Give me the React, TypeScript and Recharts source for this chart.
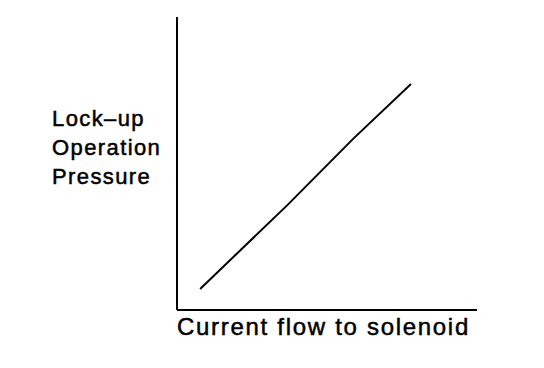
import React from 'react';
import { LineChart, Line, XAxis, YAxis, Label } from 'recharts';

// current flow (relative) vs lock-up operation pressure (relative)
const currentFlow = [7.7, 36.7, 58.7, 78];
const pressure = [7.2, 35.7, 58.4, 77.1];

const yLabelLines = ['Lock–up', 'Operation', 'Pressure'];
const xLabelText = 'Current flow to solenoid';

const data = currentFlow.map((c, i) => ({ current: c, pressure: pressure[i] }));

const font = '"Liberation Sans", Arial, Helvetica, sans-serif';

const YLabel = (props: any) => {
  const vb = props.viewBox || {};
  const x = vb.x + vb.width - 125;
  const top = vb.y + 109;
  return (
    <text
      x={x}
      y={top}
      fontFamily={font}
      fontSize={22}
      letterSpacing={1.4}
      fill="#000"
      stroke="#000"
      strokeWidth={0.5}
    >
      {yLabelLines.map((line, i) => (
        <tspan key={line} x={x} y={top + i * 29}>
          {line}
        </tspan>
      ))}
    </text>
  );
};

const XLabel = (props: any) => {
  const vb = props.viewBox || {};
  return (
    <text
      x={vb.x}
      y={vb.y + 25}
      fontFamily={font}
      fontSize={24}
      letterSpacing={1.7}
      fill="#000"
      stroke="#000"
      strokeWidth={0.5}
    >
      {xLabelText}
    </text>
  );
};

const App: React.FC = () => {
  return (
    <div style={{ position: 'absolute', left: 0, top: 0, background: '#fff' }}>
      <LineChart
        width={544}
        height={368}
        data={data}
        margin={{ top: 17, right: 67, left: 167, bottom: 48 }}
      >
        <XAxis
          type="number"
          dataKey="current"
          domain={[0, 100]}
          tick={false}
          tickLine={false}
          height={10}
          axisLine={{ stroke: '#000', strokeWidth: 2 }}
        >
          <Label content={<XLabel />} />
        </XAxis>
        <YAxis
          type="number"
          domain={[0, 100]}
          tick={false}
          tickLine={false}
          width={10}
          axisLine={{ stroke: '#000', strokeWidth: 2 }}
        >
          <Label content={<YLabel />} />
        </YAxis>
        <Line
          type="linear"
          dataKey="pressure"
          stroke="#000"
          strokeWidth={2}
          dot={false}
          isAnimationActive={false}
        />
      </LineChart>
    </div>
  );
};

export default App;
